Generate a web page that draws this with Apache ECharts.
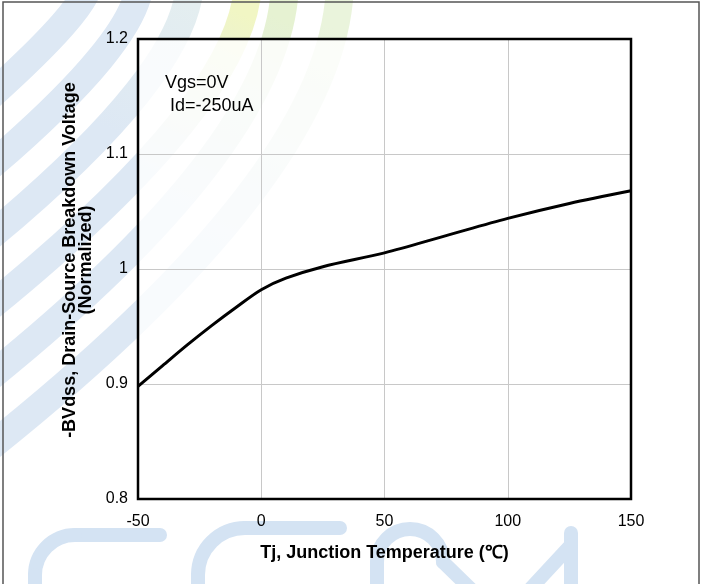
<!DOCTYPE html>
<html>
<head>
<meta charset="utf-8">
<script src="https://cdn.jsdelivr.net/npm/echarts@6/dist/echarts.min.js"></script>
<style>
  html, body { margin: 0; padding: 0; background: #fff; }
  #chart { width: 702px; height: 584px; }
</style>
</head>
<body>
<div id="chart"></div>
<script>
// junction temperature (°C) and normalized -BVdss
const temps = [-50, -40, -30, -20, -10, 0, 10, 25, 50, 75, 100, 125, 150];
const bvdss = [0.898, 0.916, 0.934, 0.951, 0.967, 0.982, 0.992, 1.002, 1.014, 1.029, 1.044, 1.057, 1.068];

const xTicks = [-50, 0, 50, 100, 150];
const yTicks = [0.8, 0.9, 1.0, 1.1, 1.2];

const notes = ["Vgs=0V", " Id=-250uA"];

const FONT = "Liberation Sans, Arial, sans-serif";

const GRID = { left: 138, right: 71, top: 39, bottom: 85 };
const W = 702, H = 584;

const chart = echarts.init(document.getElementById("chart"));

// faint logo watermark (decoration only, drawn behind everything)
const wmBlue = "#dde8f4";
const fade = (top) => ({
  type: "linear", x: 0, y: 1, x2: 0.6, y2: 0,
  colorStops: [{ offset: 0, color: wmBlue }, { offset: 0.55, color: wmBlue }, { offset: 1, color: top }]
});
const bands = [
  { y0: 90, xv: 90, color: wmBlue },
  { y0: 160, xv: 140, color: wmBlue },
  { y0: 230, xv: 190, color: fade("#e4eef0") },
  { y0: 300, xv: 248, color: fade("#f1f6c4") },
  { y0: 370, xv: 285, color: fade("#e6f2d2") },
  { y0: 440, xv: 340, color: fade("#eaf4dc") }
].map(b => ({
  type: "bezierCurve",
  z: -10,
  silent: true,
  shape: {
    x1: -20, y1: b.y0 + 15,
    cpx1: b.xv, cpy1: b.y0 - 0.75 * (b.xv + 20),
    x2: b.xv, y2: -20
  },
  style: { stroke: b.color, lineWidth: 28, fill: null }
}));

const strokeStyle = { stroke: "#d4e3f3", lineWidth: 14, fill: null, lineCap: "round" };
const seg = (x1, y1, x2, y2) => ({
  type: "line", z: -10, silent: true,
  shape: { x1, y1, x2, y2 }, style: strokeStyle
});
const bend = (cx, cy, r, a0, a1) => ({
  type: "arc", z: -10, silent: true,
  shape: { cx, cy, r, startAngle: a0, endAngle: a1, clockwise: true },
  style: strokeStyle
});
const letters = [
  seg(75, 535, 160, 535), bend(75, 575, 40, Math.PI, Math.PI * 1.5), seg(35, 575, 35, 600),
  seg(245, 528, 340, 528), bend(245, 575, 47, Math.PI, Math.PI * 1.5), seg(198, 575, 198, 600),
  bend(410, 562, 33, Math.PI, Math.PI * 2), seg(377, 562, 377, 600), seg(443, 562, 482, 600),
  seg(571, 533, 571, 600), seg(571, 545, 520, 600)
];

chart.setOption({
  animation: false,
  backgroundColor: "#ffffff",
  textStyle: { fontFamily: FONT },
  grid: {
    ...GRID,
    show: true,
    backgroundColor: "rgba(255,255,255,0.8)",
    borderWidth: 0
  },
  graphic: [
    ...bands,
    ...letters,
    {
      // heavy plot frame
      type: "rect",
      z: 100,
      silent: true,
      shape: {
        x: GRID.left, y: GRID.top,
        width: W - GRID.left - GRID.right, height: H - GRID.top - GRID.bottom
      },
      style: { stroke: "#000", lineWidth: 2.5, fill: null }
    },
    {
      type: "rect",
      z: 100,
      silent: true,
      shape: { x: 3, y: 2, width: 696, height: 590 },
      style: { stroke: "#555", lineWidth: 1.5, fill: null }
    },
    {
      type: "text",
      left: 165,
      top: 72,
      z: 50,
      style: {
        text: notes.join("\n"),
        font: "18px " + FONT,
        lineHeight: 23,
        fill: "#000"
      }
    }
  ],
  xAxis: {
    type: "value",
    min: xTicks[0],
    max: xTicks[xTicks.length - 1],
    interval: 50,
    name: "Tj, Junction Temperature (℃)",
    nameLocation: "middle",
    nameGap: 45,
    nameTextStyle: { fontSize: 18, fontWeight: "bold", color: "#000", fontFamily: FONT },
    axisLine: { show: false },
    axisTick: { show: false },
    axisLabel: { fontSize: 16, color: "#000", margin: 15, fontFamily: FONT },
    splitLine: { show: true, lineStyle: { color: "#c8c8c8", width: 1 } }
  },
  yAxis: {
    type: "value",
    min: yTicks[0],
    max: yTicks[yTicks.length - 1],
    interval: 0.1,
    name: "-BVdss, Drain-Source Breakdown Voltage\n(Normalized)",
    nameLocation: "middle",
    nameGap: 43,
    nameRotate: 90,
    nameTextStyle: {
      fontSize: 18,
      fontWeight: "bold",
      color: "#000",
      lineHeight: 16,
      padding: [0, 0, 0, 18],
      fontFamily: FONT
    },
    axisLine: { show: false },
    axisTick: { show: false },
    axisLabel: {
      fontSize: 16,
      color: "#000",
      margin: 10,
      fontFamily: FONT,
      formatter: v => String(+v.toFixed(1))
    },
    splitLine: { show: true, lineStyle: { color: "#c8c8c8", width: 1 } }
  },
  series: [
    {
      type: "line",
      data: temps.map((t, i) => [t, bvdss[i]]),
      smooth: 0.3,
      showSymbol: false,
      lineStyle: { color: "#000", width: 3 },
      z: 10
    }
  ]
});
</script>
</body>
</html>
